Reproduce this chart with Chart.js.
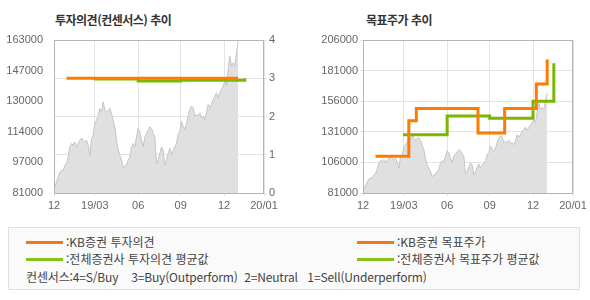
<!DOCTYPE html>
<html lang="ko">

<head>
    <meta charset="utf-8">
    <title>투자의견 / 목표주가 추이</title>
    <script src="https://cdn.jsdelivr.net/npm/chart.js"></script>
    <style>
        body {
            margin: 0;
            background: #ffffff;
            font-family: "Noto Sans CJK KR", "DejaVu Sans", sans-serif;
        }

        #wrap {
            position: relative;
            width: 590px;
            height: 300px;
            overflow: hidden;
        }

        canvas {
            position: absolute;
            top: 0;
        }

        .title {
            position: absolute;
            top: 12px;
            font-size: 12px;
            font-weight: bold;
            color: #333;
            letter-spacing: -0.5px;
            line-height: 16px;
        }

        #legend {
            position: absolute;
            left: 8px;
            top: 227px;
            width: 570px;
            height: 61px;
            border: 1px solid #e0e0e0;
            background: #fafafa;
            color: #444;
            font-size: 12px;
        }

        .item {
            position: absolute;
            white-space: pre;
            line-height: 14px;
        }

        .swatch {
            display: inline-block;
            width: 37px;
            height: 3px;
            vertical-align: middle;
            margin-right: 3px;
            position: relative;
            top: -1px;
        }
    </style>
</head>

<body>
    <div id="wrap">
        <div class="title" style="left:55px">투자의견(컨센서스) 추이</div>
        <div class="title" style="left:366px">목표주가 추이</div>
        <canvas id="opinionChart" width="300" height="215" style="left:0"></canvas>
        <canvas id="targetChart" width="295" height="215" style="left:295px"></canvas>

        <div id="legend">
            <div class="item" style="left:17px; top:7px"><span class="swatch" style="background:#f07a10"></span>:KB증권 투자의견</div>
            <div class="item" style="left:348px; top:7px"><span class="swatch" style="background:#f07a10"></span>:KB증권 목표주가</div>
            <div class="item" style="left:17px; top:24px"><span class="swatch" style="background:#86c21a"></span>:전체증권사 투자의견 평균값</div>
            <div class="item" style="left:348px; top:24px"><span class="swatch" style="background:#86c21a"></span>:전체증권사 목표주가 평균값</div>
            <div class="item" style="left:17px; top:42px; letter-spacing:-0.15px">컨센서스:4=S/Buy    3=Buy(Outperform)  2=Neutral   1=Sell(Underperform)</div>
        </div>
    </div>

    <script>
        // x axis is counted in trading days from the start of the window
        const xTickDays = [0, 49, 101, 152, 204, 252];
        const xTickLabels = ['12', '19/03', '06', '09', '12', '20/01'];

        // close price, one sample every 2 trading days (starting at day 1)
        const closePrices = [
            84200, 86900, 89600, 92300, 93200, 93000, 95900, 96800, 100300, 105700,
            107500, 106600, 108400, 105700, 107500, 109300, 110500, 109300, 108400, 109300,
            106600, 101200, 110200, 112000, 118300, 120000, 122700, 126300, 124500, 129900,
            125400, 124500, 125400, 126300, 123600, 120000, 116400,
            109300, 103900, 101200, 98600, 94100, 95900, 95900, 98600, 100300, 105700,
            107500, 105700, 111100, 115600, 113800, 109300, 105700, 111100, 112900, 114700,
            116400, 115600, 112900, 111100, 96800, 98600, 102200, 105700, 103900, 95900,
            98600, 102200, 104800, 101200, 103900, 105700, 107500,
            112400, 114100, 119500, 116800, 115000, 117700, 122200, 125800, 127600, 126700,
            122200, 123100, 122200, 124000, 121300, 122200, 120400, 124000, 128500, 126700,
            128500, 131200, 132900, 134700, 132000, 134700, 136500, 138300, 141000, 138300,
            147300, 154400, 149000, 150800, 149000, 156200, 162500
        ];
        const priceStartDay = 1;
        const priceStepDays = 2;

        // investment opinion (4=S/Buy ... 1=Sell), stepped
        const kbOpinionDays = [15, 221];
        const kbOpinionValues = [3, 3];
        const avgOpinionDays = [48, 101, 152, 229];
        const avgOpinionValues = [2.98, 2.93, 2.95, 3.0];

        // target price, stepped
        const kbTargetDays = [15, 55, 64, 138, 170, 208, 221];
        const kbTargetValues = [111000, 140000, 150000, 130000, 150000, 170000, 190000];
        const avgTargetDays = [48, 101, 152, 204, 229];
        const avgTargetValues = [128500, 144000, 142000, 156000, 187000];

        // axis labels
        const leftPriceLabels = ['81000', '97000', '114000', '130000', '147000', '163000'];
        const leftPriceMin = 81000, leftPriceMax = 163000;
        const rightPriceMin = 81000, rightPriceMax = 206000, rightPriceStep = 25000;

        const ORANGE = '#ff7b00';
        const GREEN = '#7ab800';
        const GRID = '#e4e4e4';
        const FRAME = '#b4b4b4';
        const tickFont = { family: "'Liberation Sans', Arial, sans-serif", size: 11 };

        const pricePoints = closePrices.map((v, i) => ({ x: priceStartDay + i * priceStepDays, y: v }));
        const pairUp = (days, vals) => days.map((d, i) => ({ x: d, y: vals[i] }));

        // draw a grey box round the plot area
        const framePlugin = {
            id: 'frame',
            beforeDatasetsDraw(chart) {
                const a = chart.chartArea;
                const c = chart.ctx;
                c.save();
                c.strokeStyle = FRAME;
                c.lineWidth = 1;
                c.strokeRect(Math.round(a.left) + 0.5, Math.round(a.top) + 0.5,
                    Math.round(a.right - a.left) - 1, Math.round(a.bottom - a.top));
                c.restore();
            }
        };

        function priceArea(axisId) {
            return {
                data: pricePoints,
                yAxisID: axisId,
                borderColor: '#c4c4c4',
                borderWidth: 1,
                backgroundColor: '#e0e0e0',
                fill: 'start',
                pointRadius: 0,
                tension: 0
            };
        }

        function stepLine(points, color, axisId) {
            return {
                data: points,
                yAxisID: axisId,
                borderColor: color,
                borderWidth: 3,
                pointRadius: 0,
                fill: false,
                stepped: 'before'
            };
        }

        function xAxis() {
            return {
                type: 'linear',
                min: 0,
                max: 252,
                afterBuildTicks: (scale) => {
                    scale.ticks = xTickDays.map(v => ({ value: v }));
                },
                afterFit: (scale) => { scale.height = 22; },
                grid: { color: GRID, tickLength: 3 },
                border: { display: false },
                ticks: {
                    autoSkip: false,
                    maxRotation: 0,
                    padding: 3,
                    color: '#666',
                    font: tickFont,
                    callback: (v, i) => xTickLabels[i]
                }
            };
        }

        const common = {
            responsive: false,
            animation: false,
            events: [],
            plugins: { legend: { display: false }, tooltip: { enabled: false } }
        };

        // left: investment opinion
        new Chart(document.getElementById('opinionChart'), {
            type: 'line',
            data: {
                datasets: [
                    stepLine(pairUp(kbOpinionDays, kbOpinionValues), ORANGE, 'yOp'),
                    stepLine(pairUp(avgOpinionDays, avgOpinionValues), GREEN, 'yOp'),
                    priceArea('yPrice')
                ]
            },
            options: {
                ...common,
                layout: { padding: { top: 40, left: 0, right: 0, bottom: 0 } },
                scales: {
                    x: xAxis(),
                    yPrice: {
                        position: 'left',
                        min: leftPriceMin,
                        max: leftPriceMax,
                        afterBuildTicks: (scale) => {
                            const n = leftPriceLabels.length - 1;
                            scale.ticks = leftPriceLabels.map((_, i) =>
                                ({ value: leftPriceMin + (leftPriceMax - leftPriceMin) * i / n }));
                        },
                        afterFit: (scale) => { scale.width = 54; },
                        grid: { display: false },
                        border: { display: false },
                        ticks: {
                            padding: 3,
                            color: '#666',
                            font: tickFont,
                            callback: (v, i) => leftPriceLabels[i]
                        }
                    },
                    yOp: {
                        position: 'right',
                        min: 0,
                        max: 4,
                        afterFit: (scale) => { scale.width = 36; },
                        grid: { color: GRID, tickLength: 3 },
                        border: { display: false },
                        ticks: { stepSize: 1, padding: 2, color: '#666', font: tickFont }
                    }
                }
            },
            plugins: [framePlugin]
        });

        // right: target price
        new Chart(document.getElementById('targetChart'), {
            type: 'line',
            data: {
                datasets: [
                    stepLine(pairUp(kbTargetDays, kbTargetValues), ORANGE, 'y'),
                    stepLine(pairUp(avgTargetDays, avgTargetValues), GREEN, 'y'),
                    priceArea('y')
                ]
            },
            options: {
                ...common,
                layout: { padding: { top: 40, left: 0, right: 17, bottom: 0 } },
                scales: {
                    x: xAxis(),
                    y: {
                        min: rightPriceMin,
                        max: rightPriceMax,
                        afterFit: (scale) => { scale.width = 68; },
                        grid: { color: GRID, tickLength: 3 },
                        border: { display: false },
                        ticks: {
                            stepSize: rightPriceStep,
                            padding: 2,
                            color: '#666',
                            font: tickFont,
                            callback: (v) => String(v)
                        }
                    }
                }
            },
            plugins: [framePlugin]
        });
    </script>
</body>

</html>
